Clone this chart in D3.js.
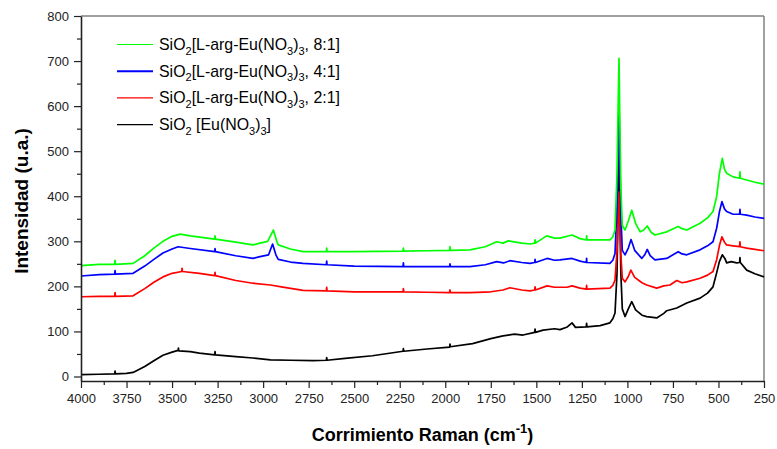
<!DOCTYPE html>
<html>
<head>
<meta charset="utf-8">
<script src="https://cdn.jsdelivr.net/npm/d3@7"></script>
<style>
  body { margin: 0; background: #fff; }
  svg text { font-family: "Liberation Sans", Arial, sans-serif; }
</style>
</head>
<body>
<svg id="chart" width="777" height="449"></svg>
<script>
// Raman shift (cm-1) / intensity pairs
const black = [[4000,4],[3900,5],[3815,6],[3813,12],[3811,6],[3750,7],[3714,9],[3650,22],[3600,35],[3550,47],[3500,54],[3467,58],[3465,63],[3463,57],[3400,55],[3350,52],[3266,48],[3264,55],[3262,48],[3150,44],[3056,41],[2960,37],[2850,36],[2726,35],[2653,36],[2651,42],[2649,36],[2550,40],[2400,46],[2232,56],[2230,62],[2228,56],[2100,61],[1976,65],[1974,72],[1972,66],[1850,73],[1750,84],[1683,90],[1620,94],[1573,92],[1509,98],[1507,105],[1505,98],[1463,103],[1400,106],[1370,104],[1330,110],[1304,119],[1285,109],[1226,110],[1224,118],[1222,110],[1150,113],[1096,119],[1080,128],[1068,141],[1057,230],[1050,400],[1046,515],[1042,380],[1036,230],[1028,150],[1013,133],[995,150],[976,166],[955,148],[920,136],[894,133],[839,130],[800,140],[784,146],[729,152],[674,163],[601,174],[560,185],[530,199],[510,230],[495,255],[479,270],[465,262],[455,252],[430,255],[400,252],[384,253],[382,264],[380,253],[345,236],[300,228],[250,221]];
const red = [[4000,177],[3900,178],[3815,178],[3813,186],[3811,178],[3714,179],[3650,195],[3600,209],[3550,221],[3500,229],[3447,233],[3445,240],[3443,233],[3350,229],[3266,224],[3264,231],[3262,224],[3150,213],[3056,207],[2960,203],[2900,199],[2781,191],[2653,190],[2651,198],[2649,190],[2500,188],[2232,188],[2230,195],[2228,188],[2100,187],[1976,186],[1974,192],[1972,186],[1864,186],[1750,188],[1683,192],[1645,197],[1580,192],[1535,190],[1509,192],[1507,199],[1505,192],[1441,201],[1400,198],[1332,198],[1304,201],[1260,196],[1226,194],[1224,202],[1222,194],[1096,196],[1080,202],[1068,214],[1057,280],[1050,360],[1046,410],[1042,350],[1036,270],[1028,218],[1013,210],[995,222],[981,236],[960,220],[920,208],[894,203],[839,196],[800,201],[766,203],[729,213],[700,208],[674,210],[601,218],[560,225],[530,233],[510,259],[495,290],[481,310],[467,298],[455,292],[420,290],[384,288],[382,299],[380,288],[345,285],[300,282],[250,279]];
const blue = [[4000,223],[3900,226],[3815,227],[3813,235],[3811,227],[3714,229],[3650,245],[3600,260],[3550,274],[3500,283],[3467,288],[3400,284],[3266,277],[3264,284],[3262,277],[3150,268],[3056,262],[3017,266],[2970,270],[2948,294],[2930,270],[2917,260],[2850,254],[2781,251],[2653,248],[2651,256],[2649,248],[2500,245],[2232,244],[2230,252],[2228,244],[2100,244],[1976,244],[1974,250],[1972,244],[1864,244],[1780,248],[1718,255],[1680,252],[1645,257],[1580,253],[1535,251],[1509,253],[1507,260],[1505,253],[1441,262],[1400,258],[1370,259],[1304,262],[1260,256],[1226,253],[1224,262],[1222,253],[1096,251],[1080,258],[1068,273],[1057,380],[1050,520],[1046,610],[1042,500],[1036,360],[1028,280],[1013,270],[995,285],[980,304],[960,280],[921,262],[905,270],[891,282],[875,268],[849,259],[784,262],[721,277],[700,272],[674,270],[601,281],[560,290],[530,299],[510,329],[495,365],[481,388],[467,372],[455,366],[420,360],[384,360],[382,371],[380,360],[345,358],[300,354],[250,351]];
const green = [[4000,246],[3900,249],[3815,249],[3813,258],[3811,249],[3714,251],[3650,268],[3600,285],[3550,300],[3500,311],[3456,316],[3400,312],[3266,305],[3264,312],[3262,305],[3150,298],[3056,292],[3017,296],[2975,300],[2944,325],[2925,300],[2917,292],[2850,283],[2781,277],[2653,277],[2651,285],[2649,277],[2500,277],[2232,278],[2230,285],[2228,278],[2100,279],[1976,280],[1974,288],[1972,280],[1864,281],[1780,288],[1718,299],[1683,296],[1654,301],[1580,296],[1535,294],[1509,296],[1507,303],[1505,296],[1443,312],[1400,307],[1370,307],[1304,314],[1260,306],[1226,303],[1224,312],[1222,303],[1096,303],[1080,310],[1068,325],[1057,450],[1050,620],[1046,706],[1042,580],[1036,420],[1028,335],[1013,325],[995,345],[976,369],[955,340],[930,321],[910,325],[891,334],[870,320],[849,314],[784,321],[721,333],[700,328],[674,325],[601,340],[560,352],[530,366],[510,399],[495,450],[479,484],[467,460],[455,451],[420,443],[384,440],[382,454],[380,440],[345,436],[300,431],[250,427]];

const xTicks = [4000, 3750, 3500, 3250, 3000, 2750, 2500, 2250, 2000, 1750, 1500, 1250, 1000, 750, 500, 250];
const yTicks = [0, 100, 200, 300, 400, 500, 600, 700, 800];

// legend rows, top to bottom: [colour, segments]; segment [text, isSub]
const legendRows = [
  ["#00ff00", [["SiO",0],["2",1],["[L-arg-Eu(NO",0],["3",1],[")",0],["3",1],[", 8:1]",0]]],
  ["#0000ff", [["SiO",0],["2",1],["[L-arg-Eu(NO",0],["3",1],[")",0],["3",1],[", 4:1]",0]]],
  ["#ff0000", [["SiO",0],["2",1],["[L-arg-Eu(NO",0],["3",1],[")",0],["3",1],[", 2:1]",0]]],
  ["#000000", [["SiO",0],["2",1],[" [Eu(NO",0],["3",1],[")",0],["3",1],["]",0]]]
];

const svg = d3.select("#chart");
const mLeft = 81, mRight = 764, mTop = 16, mBottom = 381;

const x = d3.scaleLinear([4000, 250], [mLeft, mRight]);
const y = d3.scaleLinear([-10, 800], [mBottom, mTop]);

// frame top / right
svg.append("line").attr("x1", mLeft).attr("x2", mRight).attr("y1", mTop).attr("y2", mTop)
  .attr("stroke", "#808080").attr("stroke-width", 1.5);
svg.append("line").attr("x1", mRight).attr("x2", mRight).attr("y1", mTop).attr("y2", mBottom)
  .attr("stroke", "#808080").attr("stroke-width", 1.5);

const line = d3.line().x(d => x(d[0])).y(d => y(d[1]));
[[black, "#000"], [red, "#ff0000"], [blue, "#0000ff"], [green, "#00ff00"]].forEach(([data, c]) => {
  svg.append("path").datum(data).attr("d", line)
    .attr("fill", "none").attr("stroke", c).attr("stroke-width", 1.7)
    .attr("stroke-linejoin", "round");
});

// minor ticks
const xMinor = d3.range(4000 - 125, 250, -250);
svg.append("g").attr("transform", `translate(0,${mBottom})`)
  .call(d3.axisBottom(x).tickValues(xMinor).tickSize(4).tickFormat(""))
  .call(g => g.select(".domain").remove())
  .selectAll("line").attr("stroke", "#222").attr("stroke-width", 1.2);
svg.append("g").attr("transform", `translate(${mLeft},0)`)
  .call(d3.axisLeft(y).tickValues(d3.range(50, 800, 100)).tickSize(4).tickFormat(""))
  .call(g => g.select(".domain").remove())
  .selectAll("line").attr("stroke", "#222").attr("stroke-width", 1.2);

const gx = svg.append("g").attr("transform", `translate(0,${mBottom})`)
  .call(d3.axisBottom(x).tickValues(xTicks).tickFormat(d3.format("d"))
    .tickSize(7).tickPadding(6).tickSizeOuter(0));
const gy = svg.append("g").attr("transform", `translate(${mLeft},0)`)
  .call(d3.axisLeft(y).tickValues(yTicks).tickFormat(d3.format("d"))
    .tickSize(7).tickPadding(5).tickSizeOuter(0));
[gx, gy].forEach(g => {
  g.select(".domain").attr("stroke", "#222").attr("stroke-width", 1.6);
  g.selectAll(".tick line").attr("stroke", "#222").attr("stroke-width", 1.2);
  g.selectAll("text").attr("font-size", 13).attr("fill", "#222");
});

// axis titles
const xt = svg.append("text").attr("x", (mLeft + mRight) / 2).attr("y", 441)
  .attr("text-anchor", "middle").attr("font-size", 18).attr("font-weight", "bold").attr("fill", "#000");
xt.append("tspan").text("Corrimiento Raman (cm");
xt.append("tspan").text("-1").attr("font-size", 13).attr("dy", -8);
xt.append("tspan").text(")").attr("dy", 8);

svg.append("text").attr("transform", `translate(28,201) rotate(-90)`)
  .attr("text-anchor", "middle").attr("font-size", 19).attr("font-weight", "bold").attr("fill", "#000")
  .text("Intensidad (u.a.)");

// legend
const lg = svg.append("g");
legendRows.forEach(([c, segs], i) => {
  const yy = 44.5 + i * 26.7;
  lg.append("line").attr("x1", 117).attr("x2", 153).attr("y1", yy).attr("y2", yy)
    .attr("stroke", c).attr("stroke-width", i === 1 ? 2 : 1.2);
  const t = lg.append("text").attr("x", 159).attr("y", yy + 5.5).attr("font-size", 15.9).attr("fill", "#000");
  let sub = 0;
  segs.forEach(([s, isSub]) => {
    const dy = isSub && !sub ? 4.5 : (!isSub && sub ? -4.5 : 0);
    t.append("tspan").text(s).attr("dy", dy).attr("font-size", isSub ? 11 : 15.9);
    sub = isSub;
  });
});
</script>
</body>
</html>
